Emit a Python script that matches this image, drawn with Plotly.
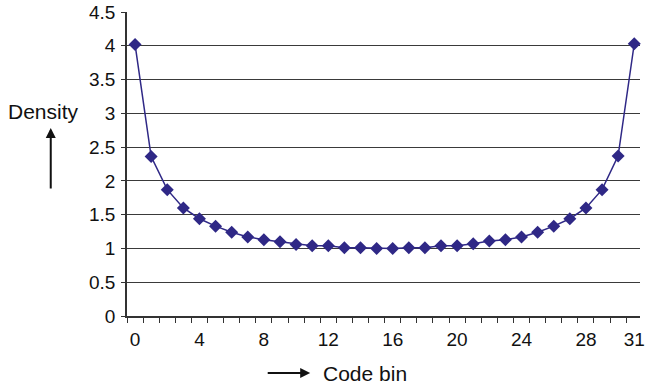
import plotly.graph_objects as go

# Code bin index and measured density per bin
code_bins = list(range(32))
density = [4.02, 2.36, 1.87, 1.60, 1.44, 1.33, 1.24, 1.17, 1.13, 1.10, 1.06, 1.04,
           1.04, 1.01, 1.01, 1.00, 1.00, 1.01, 1.01, 1.04, 1.04, 1.07, 1.11, 1.13,
           1.17, 1.24, 1.33, 1.44, 1.60, 1.87, 2.37, 4.03]

x_tick_vals = [0, 4, 8, 12, 16, 20, 24, 28, 31]
y_tick_vals = [0, 0.5, 1, 1.5, 2, 2.5, 3, 3.5, 4, 4.5]
y_tick_text = ["0", "0.5", "1", "1.5", "2", "2.5", "3", "3.5", "4", "4.5"]

W, H = 645, 387
ML, MR, MT, MB = 127, 0, 12, 71
PW, PH = W - ML - MR, H - MT - MB

def px(x):
    return (x - ML) / PW

def py(y):
    return (H - MB - y) / PH

LINE = "#2f2886"
FONT = "Liberation Sans, Arial, sans-serif"

fig = go.Figure()
fig.add_trace(go.Scatter(
    x=code_bins, y=density, mode="lines+markers",
    line=dict(color=LINE, width=1.5),
    marker=dict(symbol="diamond", size=10, color=LINE),
    cliponaxis=False, showlegend=False,
))

fig.update_layout(
    width=W, height=H,
    margin=dict(l=ML, r=MR, t=MT, b=MB),
    plot_bgcolor="white", paper_bgcolor="white",
    font=dict(family=FONT, size=19, color="#111"),
    xaxis=dict(
        range=[-0.5, -0.5 + PW / 16.26],
        tickvals=x_tick_vals, ticktext=[str(v) for v in x_tick_vals],
        ticks="", showgrid=False, zeroline=False,
        showline=True, linecolor="#333", linewidth=1.5,
        ticklabelstandoff=5, ticklabeloverflow="allow",
        tickfont=dict(size=19),
        minor=dict(tickvals=[k - 0.5 for k in range(33)], ticks="outside",
                   ticklen=5, tickcolor="#333", tickwidth=1, showgrid=False),
    ),
    yaxis=dict(
        range=[0, 4.5],
        tickvals=y_tick_vals, ticktext=y_tick_text,
        tickfont=dict(size=19),
        ticks="outside", ticklen=4, tickcolor="#333",
        ticklabeloverflow="allow", ticklabelstandoff=2,
        showgrid=True, gridcolor="#3a3a3a", gridwidth=1.2,
        zeroline=False, showline=True, linecolor="#333", linewidth=1.5,
    ),
)

annotations = [
    dict(x=px(43), y=py(111), xref="paper", yref="paper", text="Density",
         xanchor="center", yanchor="middle",
         showarrow=False, font=dict(size=21)),
    dict(x=px(50), y=py(128), xref="paper", yref="paper", text="",
         showarrow=True, ax=0, ay=62, arrowhead=2, arrowsize=1, arrowwidth=2,
         arrowcolor="#111"),
    dict(x=px(367), y=py(373), xref="paper", yref="paper", text="Code bin",
         xanchor="center", yanchor="middle",
         showarrow=False, font=dict(size=21)),
    dict(x=px(312), y=py(373), xref="paper", yref="paper", text="",
         showarrow=True, ax=-44, ay=0, arrowhead=2, arrowsize=1, arrowwidth=2,
         arrowcolor="#111"),
]
fig.update_layout(annotations=annotations)

fig.write_html("out.html")
